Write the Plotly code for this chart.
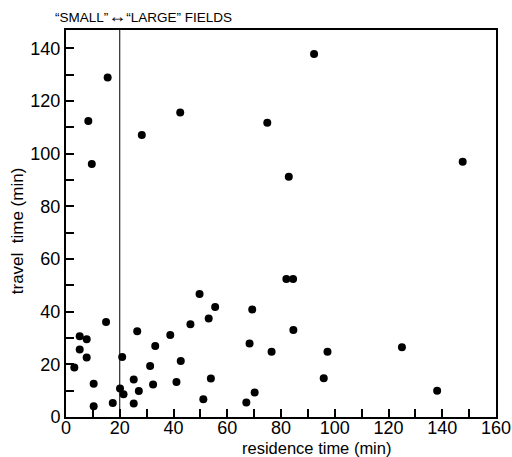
import plotly.graph_objects as go

residence_time = [92.3, 15.5, 8.3, 42.5, 28.2, 74.9, 147.6, 9.6, 82.9, 82.0, 84.5,
                  3.1, 5.1, 5.1, 7.7, 7.7, 10.3, 10.3, 14.9, 17.4, 20.1, 20.9, 21.4,
                  25.2, 25.2, 26.5, 27.1, 31.3, 32.4, 33.2, 38.8, 41.1, 42.7, 46.3,
                  49.7, 51.1, 53.1, 53.9, 55.5, 67.1, 68.3, 69.3, 70.2,
                  76.5, 84.6, 97.3, 95.9, 125.0, 138.1]
travel_time = [137.9, 129.0, 112.4, 115.7, 107.1, 111.8, 97.0, 96.1, 91.3, 52.4, 52.4,
               18.8, 30.7, 25.6, 29.5, 22.6, 12.6, 4.1, 36.1, 5.3, 10.8, 22.8, 8.6,
               14.2, 5.1, 32.6, 9.9, 19.4, 12.3, 27.0, 31.1, 13.3, 21.3, 35.2,
               46.7, 6.7, 37.4, 14.6, 41.8, 5.5, 27.9, 40.8, 9.3,
               24.8, 33.0, 24.8, 14.7, 26.5, 10.0]

boundary_x = 20
x_ticks = [0, 20, 40, 60, 80, 100, 120, 140, 160]
y_ticks = [0, 20, 40, 60, 80, 100, 120, 140]

font = "Liberation Sans, Arial, sans-serif"

fig = go.Figure()
fig.add_trace(go.Scatter(x=residence_time, y=travel_time, mode="markers",
                         marker=dict(color="black", size=8), showlegend=False))

fig.add_shape(type="line", xref="x", yref="paper", x0=boundary_x, x1=boundary_x,
              y0=0, y1=1, line=dict(color="black", width=1))

axis_common = dict(ticks="inside", ticklen=8, tickwidth=1.5, tickcolor="black",
                   showline=True, linecolor="black", linewidth=2, mirror=True,
                   showgrid=False, zeroline=False, automargin=False,
                   minor=dict(dtick=10, ticks="inside", ticklen=8, tickwidth=1.5,
                              tickcolor="black", showgrid=False),
                   tickfont=dict(family=font, size=18, color="black"))
fig.update_xaxes(range=[0, 160], tickvals=x_ticks, ticklabelstandoff=-7, **axis_common)
fig.update_yaxes(range=[0, 147], tickvals=y_ticks, **axis_common)

fig.add_annotation(text="residence time (min)", xref="paper", yref="paper",
                   x=(316 - 66) / 430, y=-(448 - 417) / 387, xanchor="center", yanchor="middle",
                   showarrow=False, font=dict(family=font, size=16.5, color="black"))
fig.add_annotation(text="travel  time (min)", xref="paper", yref="paper",
                   x=(17 - 66) / 430, y=0.48, xanchor="center", yanchor="middle",
                   textangle=-90, showarrow=False,
                   font=dict(family=font, size=17, color="black"))
fig.add_annotation(text="\u201cSMALL\u201d<span style=\"font-size:18px\">\u2194</span>\u201cLARGE\u201d FIELDS",
                   xref="paper", yref="paper",
                   x=(143 - 66) / 430, y=1.035, xanchor="center", yanchor="middle",
                   showarrow=False, font=dict(family=font, size=13.5, color="black"))

fig.update_layout(width=512, height=457, plot_bgcolor="white", paper_bgcolor="white",
                  margin=dict(l=66, r=16, t=30, b=40))

fig.write_html("out.html", config={"displayModeBar": False},
               post_script="document.body.style.margin='0';document.body.style.overflow='hidden';")
